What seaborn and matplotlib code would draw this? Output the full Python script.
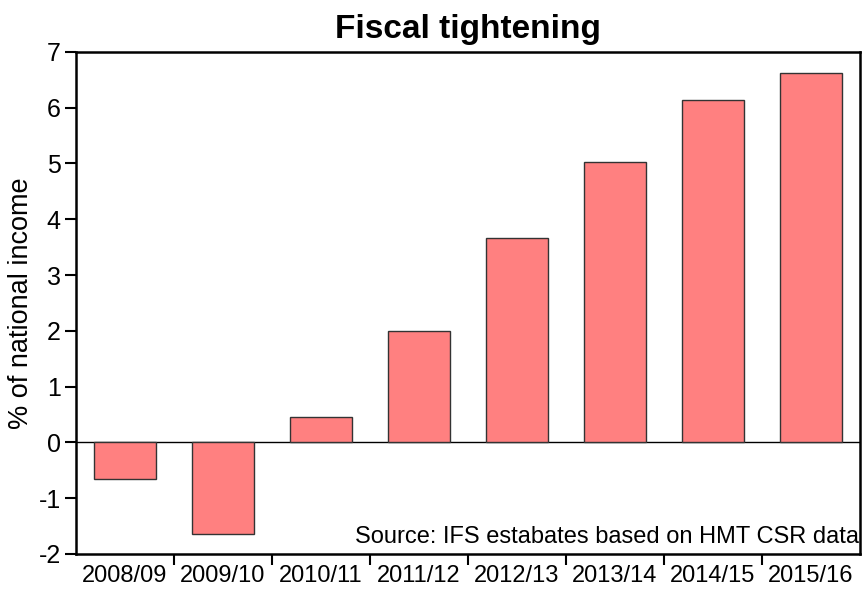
import matplotlib
matplotlib.use("Agg")
import matplotlib.pyplot as plt
import seaborn as sns
import numpy as np
import pandas as pd

categories = ["2008/09", "2009/10", "2010/11", "2011/12", "2012/13", "2013/14", "2014/15", "2015/16"]
values = [-0.65, -1.64, 0.46, 2.0, 3.66, 5.03, 6.13, 6.63]
yticks = [-2, -1, 0, 1, 2, 3, 4, 5, 6, 7]

sns.set_style("white")
plt.rcParams['font.family'] = ['Liberation Sans', 'DejaVu Sans']
plt.rcParams['text.color'] = 'black'
plt.rcParams['axes.labelcolor'] = 'black'
plt.rcParams['xtick.color'] = 'black'
plt.rcParams['ytick.color'] = 'black'

fig = plt.figure(figsize=(8.64, 5.95), dpi=100)
ax = fig.add_axes([0.088, 0.069, 0.9074, 0.8437])

df = pd.DataFrame({"period": categories, "value": values})
sns.barplot(data=df, x="period", y="value", color="#FF8080", saturation=1,
            width=0.63, edgecolor="#333333", linewidth=1, ax=ax)

ax.axhline(0, color="black", linewidth=1, zorder=0.5)
ax.set_ylim(-2, 7)
ax.set_xlim(-0.5, len(categories) - 0.5)
ax.set_yticks(yticks)
ax.set_yticklabels([str(t) for t in yticks], fontsize=18)
ax.set_xticks(range(len(categories)))
ax.set_xticklabels(categories, fontsize=17)
ax.set_xticks(np.arange(0.5, len(categories) - 0.5, 1), minor=True)
ax.tick_params(axis='x', which='major', bottom=True, length=0, pad=8, labelcolor='black')
ax.tick_params(axis='x', which='minor', bottom=True, length=8, width=1.5, direction='out', color='black')
ax.tick_params(axis='y', which='major', left=True, length=8, width=1.5, direction='out', color='black', pad=3, labelcolor='black')
for s in ax.spines.values():
    s.set_visible(True)
    s.set_color("black")
    s.set_linewidth(1.8)

ax.set_xlabel("")
ax.set_ylabel("% of national income", fontsize=19.5, color='black', labelpad=3)
ax.set_title("Fiscal tightening", fontsize=24, fontweight="bold", pad=10, color='black')
ax.text(0.999, 0.012, "Source: IFS estabates based on HMT CSR data", transform=ax.transAxes,
        ha="right", va="bottom", fontsize=17, color='black')

fig.savefig("out.png", dpi=100)
